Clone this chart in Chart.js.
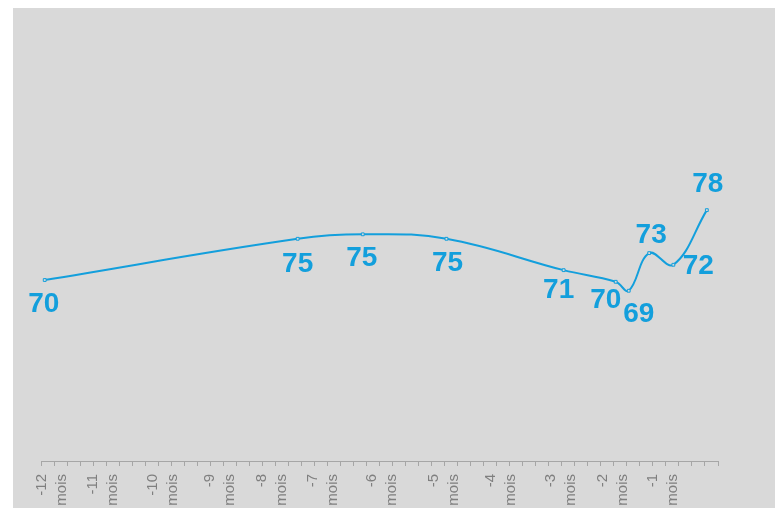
<!DOCTYPE html>
<html lang="fr">
<head>
  <meta charset="UTF-8" />
  <title>Évolution sur 12 mois</title>
  <script src="https://cdn.jsdelivr.net/npm/chart.js"></script>
  <style>
    html, body {
      margin: 0;
      padding: 0;
      background: #fff;
      overflow: hidden;
    }
    #cadre {
      position: absolute;
      left: 13px;
      top: 8px;
      width: 762px;
      height: 500px;
      background: #d9d9d9;
    }
  </style>
</head>
<body>
  <div id="cadre"><canvas id="graphique"></canvas></div>

  <script>
    // jours depuis le début de l'axe (52 semaines)
    const jours = [2, 138, 173, 218, 281, 309, 316, 327, 340, 358];
    const valeurs = [70.2, 74.8, 75.3, 74.8, 71.3, 70.0, 69.0, 73.2, 71.9, 78.0];

    // repères mensuels de l'axe
    const moisJours = [0.5, 28, 60, 91, 119, 146, 178, 211, 242, 274, 302, 329];
    const moisLabels = ['-12 mois', '-11 mois', '-10 mois', '-9 mois', '-8 mois', '-7 mois',
                        '-6 mois', '-5 mois', '-4 mois', '-3 mois', '-2 mois', '-1 mois'];

    const bleu = '#139fdc';
    const police = "'Liberation Sans', Arial, sans-serif";

    // étiquettes de valeur placées à la main comme dans l'original
    const etiquettesPlugin = {
      id: 'etiquettes',
      afterDatasetsDraw(chart, args, opts) {
        const ctx = chart.ctx;
        const meta = chart.getDatasetMeta(0);
        ctx.save();
        ctx.font = 'bold 28px ' + police;
        ctx.fillStyle = bleu;
        ctx.textAlign = 'center';
        ctx.textBaseline = 'middle';
        meta.data.forEach((pt, i) => {
          const d = opts.decalages[i];
          ctx.fillText(String(Math.round(valeurs[i])), pt.x + d[0], pt.y + d[1]);
        });
        ctx.restore();
      }
    };

    new Chart(document.getElementById('graphique'), {
      type: 'line',
      data: {
        datasets: [{
          data: jours.map((j, i) => ({ x: j, y: valeurs[i] })),
          xAxisID: 'x',
          yAxisID: 'y',
          borderColor: bleu,
          borderWidth: 2,
          tension: 0.4,
          fill: false,
          pointStyle: 'rect',
          pointRadius: 2,
          pointBorderWidth: 1,
          pointBorderColor: bleu,
          pointBackgroundColor: '#d9d9d9'
        }]
      },
      options: {
        responsive: true,
        maintainAspectRatio: false,
        animation: false,
        events: [],
        layout: { padding: { left: 28, right: 57, top: 1, bottom: 0 } },
        plugins: {
          legend: { display: false },
          tooltip: { enabled: false },
          etiquettes: {
            decalages: [[-1, 24], [0, 25], [-1, 24], [1, 24], [-5, 20],
                        [-10, 18], [10, 24], [2, -18], [25, 2], [1, -26]]
          }
        },
        scales: {
          x: {
            type: 'linear',
            min: 0,
            max: 364,
            position: 'bottom',
            weight: 0,
            border: { display: true, color: '#a6a6a6', width: 1 },
            grid: { drawOnChartArea: false, drawTicks: true, tickLength: 5, color: '#a6a6a6' },
            ticks: { display: false, stepSize: 7, maxTicksLimit: 60 },
            afterFit(s) { s.height = 5; s.paddingLeft = 0; s.paddingRight = 0; }
          },
          xMois: {
            type: 'linear',
            min: 0,
            max: 364,
            position: 'bottom',
            weight: 1,
            border: { display: false },
            grid: { display: false, drawTicks: false },
            ticks: {
              autoSkip: false,
              minRotation: 90,
              maxRotation: 90,
              padding: 8,
              color: '#7f7f7f',
              font: { family: police, size: 15, lineHeight: 1.33 },
              callback: (v, i) => moisLabels[i].split(' ')
            },
            afterBuildTicks(s) { s.ticks = moisJours.map(v => ({ value: v })); },
            afterFit(s) { s.height = 42; s.paddingLeft = 0; s.paddingRight = 0; }
          },
          y: { display: false, min: 50, max: 100 }
        }
      },
      plugins: [etiquettesPlugin]
    });
  </script>
</body>
</html>
